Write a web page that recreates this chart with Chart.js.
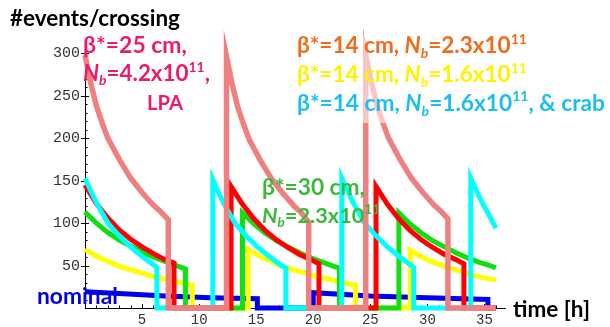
<!DOCTYPE html>
<html>
<head>
<meta charset="utf-8">
<script src="https://cdn.jsdelivr.net/npm/chart.js@4.4.0/dist/chart.umd.min.js"></script>
<style>
  html, body { margin: 0; padding: 0; background: #fff; }
  canvas { display: block; }
</style>
</head>
<body>
<canvas id="myChart" width="610" height="327"></canvas>
<script>
// tick labels
const xTicks = [5, 10, 15, 20, 25, 30, 35];
const yTicks = [50, 100, 150, 200, 250, 300];

// beta*=25 cm, Nb=4.2e11, LPA
const lpaTime = [0, 0.5, 1, 1.5, 2, 3, 4, 5, 6, 6.5, 7.3, 7.3,
  12.4, 12.4, 12.9, 13.4, 13.9, 14.4, 15.4, 16.4, 17.4, 18.4, 18.9, 19.6, 19.6,
  24.6, 24.6, 25.1, 25.6, 26.1, 26.6, 27.6, 28.6, 29.6, 30.6, 31.1, 31.8, 31.8, 36];
const lpaEvents = [298, 265, 238, 218, 200, 175, 153, 136, 121, 115, 104, 0,
  0, 296, 263, 236, 216, 198, 173, 151, 134, 119, 113, 101, 0,
  0, 298, 265, 238, 218, 200, 175, 153, 136, 121, 115, 105, 0, 0];

// beta*=14 cm, Nb=2.3e11
const redTime = [0, 1, 2, 3, 4, 5, 6, 7, 7.8, 7.8,
  12.8, 12.8, 13.8, 14.8, 15.8, 16.8, 17.8, 18.8, 19.8, 20.5, 20.5,
  25.5, 25.5, 26.5, 27.5, 28.5, 29.5, 30.5, 31.5, 32.5, 33.2, 33.2, 36];
const redEvents = [145, 123, 106, 92, 81, 72, 64, 57, 53, 0,
  0, 143, 122, 105, 91, 80, 71, 63, 57, 52, 0,
  0, 143, 122, 105, 91, 80, 71, 63, 57, 52, 0, 0];

// beta*=30 cm, Nb=2.3e11
const greenTime = [0, 1, 2, 3, 4, 5, 6, 7, 8, 8.8, 8.8,
  13.8, 13.8, 14.8, 15.8, 16.8, 17.8, 18.8, 19.8, 20.8, 21.8, 22.3, 22.3,
  27.5, 27.5, 28.5, 29.5, 30.5, 31.5, 32.5, 33.5, 34.5, 35.5, 36];
const greenEvents = [113, 100, 89, 80, 73, 66, 60, 55, 50, 46, 0,
  0, 112, 99, 88, 79, 72, 65, 59, 54, 49, 47, 0,
  0, 112, 99, 88, 79, 72, 65, 59, 54, 50, 47];

// beta*=14 cm, Nb=1.6e11
const yellowTime = [0, 1, 2, 3, 4, 5, 6, 7, 8, 9, 9.4, 9.4,
  14.3, 14.3, 15.3, 16.3, 17.3, 18.3, 19.3, 20.3, 21.3, 22.3, 23.3, 23.7, 23.7,
  28.5, 28.5, 29.5, 30.5, 31.5, 32.5, 33.5, 34.5, 35.5, 36];
const yellowEvents = [69, 61, 55, 49, 45, 41, 37, 34, 31, 28, 27, 0,
  0, 69, 61, 55, 49, 45, 41, 37, 34, 31, 28, 27, 0,
  0, 68, 60, 54, 49, 45, 41, 37, 34, 33];

// beta*=14 cm, Nb=1.6e11, & crab
const crabTime = [0, 0.5, 1, 1.5, 2, 3, 4, 5, 6, 6.3, 6.3,
  11.2, 11.2, 11.7, 12.2, 12.7, 13.2, 14.2, 15.2, 16.2, 17.2, 17.6, 17.6,
  22.5, 22.5, 23, 23.5, 24, 24.5, 25.5, 26.5, 27.5, 28.5, 28.8, 28.8,
  33.8, 33.8, 34.3, 34.8, 35.3, 36];
const crabEvents = [153, 138, 124, 112, 100, 85, 72, 61, 51, 48, 0,
  0, 151, 136, 122, 110, 99, 84, 71, 60, 50, 47, 0,
  0, 153, 138, 124, 112, 100, 85, 72, 61, 51, 48, 0,
  0, 153, 138, 124, 112, 94];

// nominal
const nominalTime = [0, 3, 7, 11, 15.1, 15.1, 20, 20, 25, 30, 35.3, 35.3, 36];
const nominalEvents = [19, 17, 14, 12, 11, 0, 0, 18, 14, 12, 10, 0, 0];

const toPoints = (t, v) => t.map((x, i) => ({ x: x, y: v[i] }));

const line = (label, t, v, color, width) => ({
  label: label,
  data: toPoints(t, v),
  borderColor: color,
  borderWidth: width,
  pointRadius: 0,
  tension: 0,
  fill: false,
  clip: false,
  borderJoinStyle: 'miter',
});

const textFont = 'Lato, "Noto Sans", "DejaVu Sans", sans-serif';

// annotation texts: [text, flags] runs, i = italic, s = subscript, p = superscript
const notes = [
  { runs: [['#events/crossing']], x: 10, y: 26, w: 170, color: '#000000' },
  { runs: [['β*=25 cm,']], x: 83, y: 53, w: 104, color: '#ec1a6e' },
  { runs: [['N', 'i'], ['b', 'is'], ['=4.2x10'], ['11', 'p'], [',']], x: 83, y: 81, w: 127, color: '#ec1a6e' },
  { runs: [['LPA']], x: 147, y: 110, w: 36, color: '#ec1a6e' },
  { runs: [['β*=14 cm, '], ['N', 'i'], ['b', 'is'], ['=2.3x10'], ['11', 'p']], x: 297, y: 53, w: 230, color: '#f26a1b' },
  { runs: [['β*=14 cm, '], ['N', 'i'], ['b', 'is'], ['=1.6x10'], ['11', 'p']], x: 297, y: 82, w: 230, color: '#fff200' },
  { runs: [['β*=14 cm, '], ['N', 'i'], ['b', 'is'], ['=1.6x10'], ['11', 'p'], [', & crab']], x: 297, y: 111, w: 308, color: '#1cbfeb' },
  { runs: [['β*=30 cm,']], x: 262, y: 195, w: 103, color: '#3cb93c' },
  { runs: [['N', 'i'], ['b', 'is'], ['=2.3x10'], ['11', 'p']], x: 262, y: 223, w: 118, color: '#3cb93c' },
  { runs: [['nominal']], x: 37, y: 304, w: 81, color: '#0000e6' },
  { runs: [['time [h]']], x: 513, y: 317, w: 77, color: '#000000' },
];

const runFont = (r, size) => {
  const f = r[1] || '';
  const small = f.includes('s') || f.includes('p');
  return (f.includes('i') ? 'italic ' : '') + 'bold ' + (small ? size * 0.62 : size) + 'px ' + textFont;
};

const drawNote = (ctx, note) => {
  const base = 20;
  let total = 0;
  note.runs.forEach(r => { ctx.font = runFont(r, base); total += ctx.measureText(r[0]).width; });
  const size = base * note.w / total;
  let x = note.x;
  ctx.fillStyle = note.color;
  ctx.textBaseline = 'alphabetic';
  ctx.textAlign = 'left';
  note.runs.forEach(r => {
    const f = r[1] || '';
    ctx.font = runFont(r, size);
    let dy = 0;
    if (f.includes('s')) dy = size * 0.2;
    if (f.includes('p')) dy = -size * 0.42;
    ctx.fillText(r[0], x, note.y + dy);
    x += ctx.measureText(r[0]).width;
  });
};

const axisTicks = {
  id: 'axisTicks',
  beforeDatasetsDraw(chart) {
    const { ctx, scales: { x, y } } = chart;
    ctx.save();
    ctx.strokeStyle = '#000';
    ctx.lineWidth = 1;
    ctx.beginPath();
    for (let v = 10; v <= 300; v += 10) {
      const py = Math.round(y.getPixelForValue(v)) + 0.5;
      const major = yTicks.includes(v);
      ctx.moveTo(x.left - (major ? 4 : 0), py);
      ctx.lineTo(x.left + (major ? 4 : 2.5), py);
    }
    for (let v = 1; v <= 36; v++) {
      const px = Math.round(x.getPixelForValue(v)) + 0.5;
      const major = xTicks.includes(v);
      ctx.moveTo(px, y.bottom);
      ctx.lineTo(px, y.bottom - (major ? 4 : 2.5));
    }
    ctx.stroke();
    ctx.restore();
  }
};

const annotations = {
  id: 'annotations',
  afterDatasetsDraw(chart) {
    const ctx = chart.ctx;
    ctx.save();
    ctx.fillStyle = 'rgba(255,255,255,0.55)';
    ctx.fillRect(293, 33, 317, 90);
    notes.forEach(n => drawNote(ctx, n));
    ctx.restore();
  }
};

const config = {
  type: 'line',
  data: {
    datasets: [
      line('LPA', lpaTime, lpaEvents, '#f08080', 5.5),
      line('crab', crabTime, crabEvents, '#00ffff', 5),
      line('b14 2.3', redTime, redEvents, '#ff0000', 5),
      line('b30 2.3', greenTime, greenEvents, '#10e010', 5),
      line('b14 1.6', yellowTime, yellowEvents, '#ffff00', 5),
      line('nominal', nominalTime, nominalEvents, '#0000ee', 5),
    ],
  },
  options: {
    responsive: false,
    animation: false,
    devicePixelRatio: 1,
    layout: { padding: { top: 49, right: 105, bottom: 0, left: 0 } },
    plugins: { legend: { display: false }, tooltip: { enabled: false } },
    scales: {
      x: {
        type: 'linear',
        min: 0,
        max: 36.8,
        grid: { display: false, drawTicks: false },
        border: { display: true, color: '#000', width: 1 },
        afterBuildTicks: s => { s.ticks = xTicks.map(v => ({ value: v })); },
        afterFit: s => { s.height = 19; },
        ticks: { font: { family: 'Liberation Mono', size: 14 }, color: '#333', padding: 4, maxRotation: 0, autoSkip: false },
      },
      y: {
        type: 'linear',
        min: 0,
        max: 305,
        grid: { display: false, drawTicks: false },
        border: { display: true, color: '#000', width: 1 },
        afterBuildTicks: s => { s.ticks = yTicks.map(v => ({ value: v })); },
        afterFit: s => { s.width = 85; },
        ticks: { font: { family: 'Liberation Mono', size: 15 }, color: '#333', padding: 5, autoSkip: false },
      },
    },
  },
  plugins: [axisTicks, annotations],
};

const myChart = new Chart(document.getElementById('myChart'), config);
</script>
</body>
</html>
